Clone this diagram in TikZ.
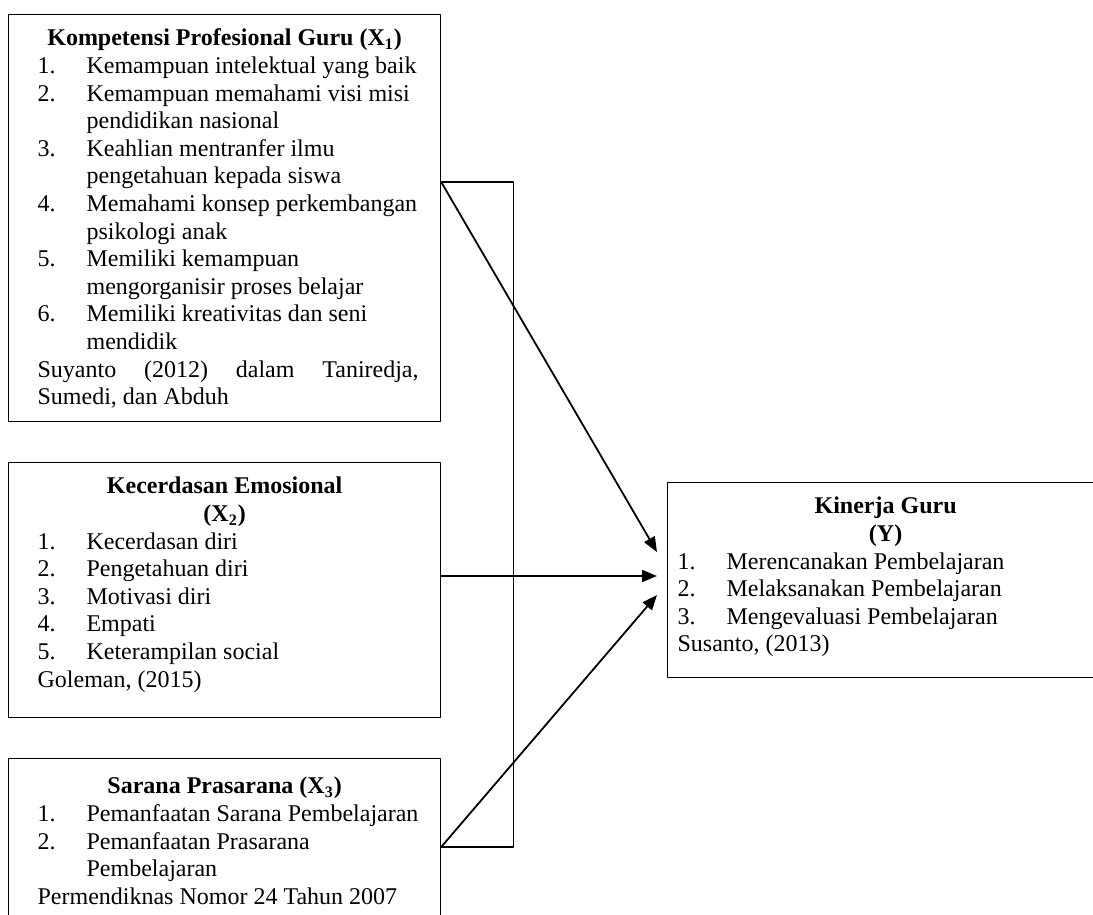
\documentclass[tikz,border=0pt]{standalone}
\usepackage{fontspec}
\setmainfont{Liberation Serif}
\usetikzlibrary{arrows.meta}

% isi kotak: [jarak atas]{lebar}{tinggi}{indent kiri}{teks}
\newcommand{\isikotak}[5][6pt]{\parbox[c][#3][t]{#2}{\vspace*{#1}\raggedright\leftskip=#4\relax #5}}
\newcommand{\judul}[1]{{\centering\bfseries\strut #1\par}}
\newcommand{\nomor}[2]{\makebox[24.5pt][l]{#1}#2}
\newcommand{\lanjut}[1]{\hspace*{24.5pt}#1}

\begin{document}
\begin{tikzpicture}[x=0.5pt,y=-0.5pt,font=\fontsize{12}{13.8}\selectfont,line join=round,>={Triangle[length=7.5pt,width=6pt]},
		kotak/.style={draw,line width=0.6pt,inner sep=0pt,anchor=north west},
		panah/.style={->,line width=0.9pt}]
	\useasboundingbox (0,0) rectangle (1093,915);
	\clip (0,0) rectangle (1093,915);
	
	\node[kotak] (x1) at (8,14) {\isikotak{216pt}{203.5pt}{14.5pt}{%
		\judul{Kompetensi Profesional Guru (X\textsubscript{1})}
		\nomor{1.}{Kemampuan intelektual yang baik}\\
		\nomor{2.}{Kemampuan memahami visi misi}\\
		\lanjut{pendidikan nasional}\\
		\nomor{3.}{Keahlian mentranfer ilmu}\\
		\lanjut{pengetahuan kepada siswa}\\
		\nomor{4.}{Memahami konsep perkembangan}\\
		\lanjut{psikologi anak}\\
		\nomor{5.}{Memiliki kemampuan}\\
		\lanjut{mengorganisir proses belajar}\\
		\nomor{6.}{Memiliki kreativitas dan seni}\\
		\lanjut{mendidik}\\
		\makebox[190.5pt][s]{Suyanto (2012) dalam Taniredja,}\\
		Sumedi, dan Abduh}};
	\node[kotak] (x2) at (8,462) {\isikotak{216pt}{127.5pt}{14.5pt}{%
		\judul{Kecerdasan Emosional\\(X\textsubscript{2})}
		\nomor{1.}{Kecerdasan diri}\\
		\nomor{2.}{Pengetahuan diri}\\
		\nomor{3.}{Motivasi diri}\\
		\nomor{4.}{Empati}\\
		\nomor{5.}{Keterampilan social}\\
		Goleman, (2015)}};
	\node[kotak] (x3) at (8,758) {\isikotak[8pt]{216pt}{100pt}{14.5pt}{%
		\judul{Sarana Prasarana (X\textsubscript{3})}
		\nomor{1.}{Pemanfaatan Sarana Pembelajaran}\\
		\nomor{2.}{Pemanfaatan Prasarana}\\
		\lanjut{Pembelajaran}\\
		Permendiknas Nomor 24 Tahun 2007}};
	\node[kotak] (y) at (667,482) {\isikotak{218pt}{97.5pt}{5pt}{%
		\judul{Kinerja Guru\\(Y)}
		\nomor{1.}{Merencanakan Pembelajaran}\\
		\nomor{2.}{Melaksanakan Pembelajaran}\\
		\nomor{3.}{Mengevaluasi Pembelajaran}\\
		Susanto, (2013)}};
	
	\path (x1.north east) ++(0,168) coordinate (k1);
	\path (x2.north east) ++(0,114) coordinate (k2);
	\path (x3.north east) ++(0,89) coordinate (k3);
	\draw[line width=0.6pt] (k1) -- ++(72,0) |- (k3);
	\draw[panah] (k1) -- ([shift={(-10,70)}]y.north west);
	\draw[panah] (k2) -- ([shift={(-10,94)}]y.north west);
	\draw[panah] (k3) -- ([shift={(-10,113)}]y.north west);
\end{tikzpicture}
\end{document}
